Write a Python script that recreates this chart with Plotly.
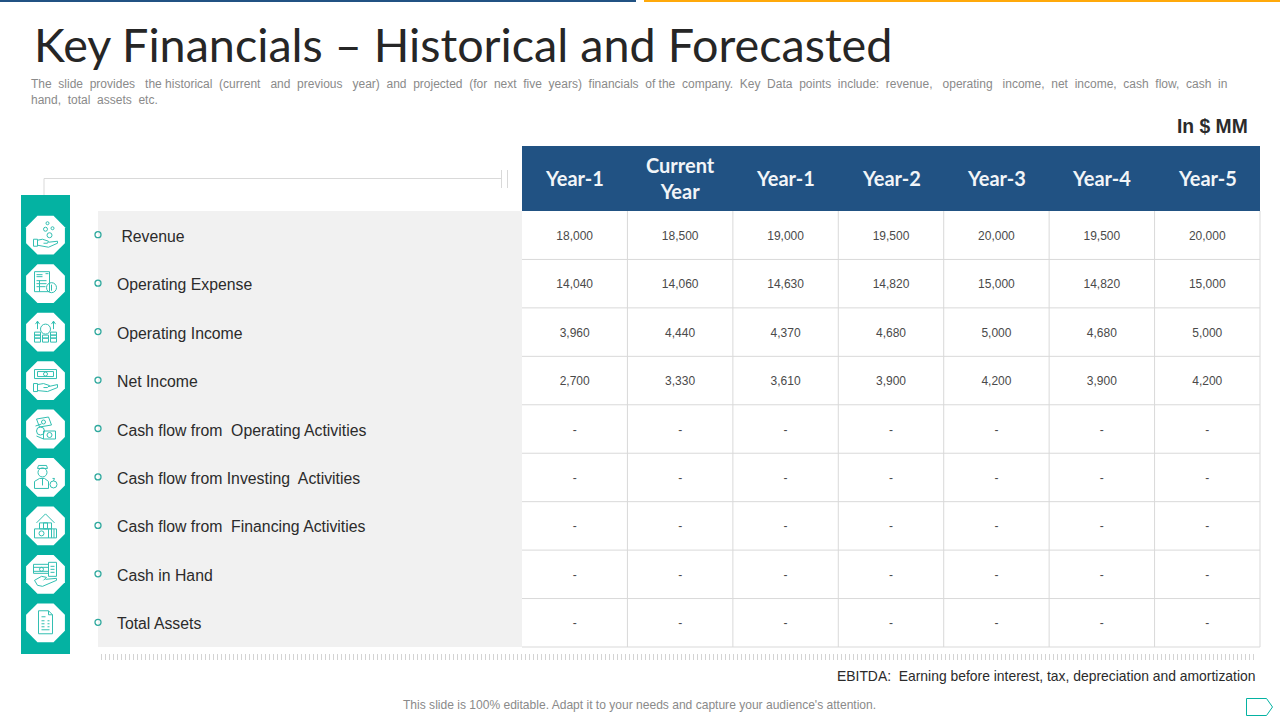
import plotly.graph_objects as go

# table content
title = 'Key Financials – Historical and Forecasted'
subtitle = ('The  slide  provides   the historical  (current   and  previous   year)  and  projected  (for  next  five  years)  financials  of the  company.  '
            'Key  Data  points  include:  revenue,   operating   income,  net  income,  cash  flow,  cash  in<br>hand,  total  assets  etc.')
unit = 'In $ MM'
note = 'EBITDA:  Earning before interest, tax, depreciation and amortization'
footer = "This slide is 100% editable. Adapt it to your needs and capture your audience's attention."

columns = ['Year-1', 'Current<br>Year', 'Year-1', 'Year-2', 'Year-3', 'Year-4', 'Year-5']
rowNames = ['\u00a0Revenue', 'Operating Expense', 'Operating Income', 'Net Income',
            'Cash flow from  Operating Activities', 'Cash flow from Investing  Activities',
            'Cash flow from  Financing Activities', 'Cash in Hand', 'Total Assets']

revenue = ['18,000', '18,500', '19,000', '19,500', '20,000', '19,500', '20,000']
opExpense = ['14,040', '14,060', '14,630', '14,820', '15,000', '14,820', '15,000']
opIncome = ['3,960', '4,440', '4,370', '4,680', '5,000', '4,680', '5,000']
netIncome = ['2,700', '3,330', '3,610', '3,900', '4,200', '3,900', '4,200']
blank = ['-'] * 7
cellRows = [revenue, opExpense, opIncome, netIncome, blank, blank, blank, blank, blank]

# layout of the slide, in pixels
W = 1280; H = 720
tabL = 522; tabR = 1260; headT = 146; headB = 211; tabB = 647
colW = (tabR - tabL) / len(columns); rowH = (tabB - headB) / len(rowNames)
panelL = 98; bandL = 21; bandR = 70; bandT = 195; bandB = 654
iconX = 45.5

TEAL = '#04b2a2'; ICON = '#33bfb2'; BLUE = '#215283'; GRID = '#d9d9d9'; TXT = '#2b2b2b'

fig = go.Figure()


def rect(x0, y0, x1, y1, fill, line=None):
    fig.add_shape(type='rect', x0=x0, y0=y0, x1=x1, y1=y1, fillcolor=fill, line=dict(width=0 if line is None else 1, color=line), layer='below')


def seg(x0, y0, x1, y1, color=GRID, w=1):
    fig.add_shape(type='line', x0=x0, y0=y0, x1=x1, y1=y1, line=dict(color=color, width=w), layer='below')


def label(x, y, text, size, color=TXT, anchor='left', font='Liberation Sans', **kw):
    fig.add_annotation(x=x, y=y, text=text, showarrow=False, xanchor=anchor, yanchor='middle', borderpad=0,
                       font=dict(family=font, size=size, color=color), **kw)


# little line icons, drawn around the octagon centre
def icon(cy, parts):
    for p in parts:
        kind = p[0]
        if kind == 'c':
            _, x, y, r = p
            fig.add_shape(type='circle', x0=iconX+x-r, x1=iconX+x+r, y0=cy+y-r, y1=cy+y+r, line=dict(color=ICON, width=1))
        elif kind == 'r':
            _, x0, y0, x1, y1 = p
            fig.add_shape(type='rect', x0=iconX+x0, x1=iconX+x1, y0=cy+y0, y1=cy+y1, line=dict(color=ICON, width=1))
        else:
            pts = p[1]
            path = 'M' + ' L'.join('{:g},{:g}'.format(iconX+x, cy+y) for x, y in pts)
            fig.add_shape(type='path', path=path, line=dict(color=ICON, width=1))


hand = [('r', -12, 4, -8, 11), ('l', [(-8, 5), (-3, 4), (3, 6), (2, 8), (-2, 8)]),
        ('l', [(3, 7), (12, 6), (12, 8), (3, 12), (-8, 10)])]
iconParts = [
    hand + [('c', 2, -12, 1.5), ('c', 0, -6, 2), ('c', 7, -7, 1.5), ('c', 4, 0, 2.5)],
    [('r', -11, -12, 4, 8), ('l', [(-9, -9), (-3, -9)]), ('l', [(-9, -7), (-3, -7)]), ('l', [(-9, -3), (1, -3)]),
     ('l', [(-9, 0), (1, 0)]), ('l', [(-9, 3), (0, 3)]), ('l', [(-6, -3), (-6, 8)]), ('c', 6, 4, 5), ('l', [(6, 1), (6, 7)]),
     ('l', [(0, -10), (3, -10)])],
    [('r', -11, 0, -5, 3), ('r', -11, 3, -5, 6), ('r', -11, 6, -5, 10), ('r', -3, 3, 3, 6), ('r', -3, 6, 3, 10),
     ('r', 5, 0, 11, 3), ('r', 5, 3, 11, 6), ('r', 5, 6, 11, 10), ('c', 0, -3, 5), ('l', [(-8, -3), (-8, -11)]),
     ('l', [(-10, -8), (-8, -11), (-6, -8)]), ('l', [(8, -3), (8, -11)]), ('l', [(6, -8), (8, -11), (10, -8)])],
    [('r', -11, -11, 11, -2), ('r', -8, -9, 8, -4), ('c', 0, -6.5, 2), ('r', -12, 3, -8, 11),
     ('l', [(-8, 4), (-2, 3), (4, 5), (2, 7), (-2, 7)]), ('l', [(3, 6), (12, 4), (12, 7), (2, 11), (-8, 10)])],
    [('l', [(-9, -10), (3, -12), (6, -4), (-6, -2), (-9, -10)]), ('l', [(-10, -3), (-4, -5)]), ('c', -2, -7, 2),
     ('r', -2, 2, 10, 10), ('c', 4, 6, 2.5), ('c', -5, 2, 4), ('l', [(-9, 7), (-2, 10)])],
    [('c', -3, -5, 4.5), ('l', [(-8, -9), (-7, -12), (1, -12), (2, -9), (-8, -9)]), ('l', [(-11, 11), (-11, 4), (-6, 1), (-1, 1), (3, 4), (3, 11), (-11, 11)]),
     ('l', [(-3, 1), (-3, 8)]), ('c', 8, 7, 3.5), ('l', [(7, 1), (9, 1), (8, 3.5)])],
    [('l', [(-9, -3), (0, -12), (9, -3)]), ('r', -6, -3, 6, 3), ('r', -2, -3, 2, 3), ('r', -11, 3, 3, 12), ('c', -4, 7.5, 2.5),
     ('r', 3, 3, 11, 12), ('l', [(6, 3), (6, 12)]), ('l', [(8.5, 3), (8.5, 12)])],
    [('r', -12, -10, 3, -1), ('r', -12, -7, 3, -3), ('c', -4, -5, 2), ('r', 3, -12, 11, 2), ('l', [(5, -8), (9, -8)]), ('l', [(5, -5), (9, -5)]),
     ('l', [(5, -2), (9, -2)]), ('l', [(-11, 6), (-4, 2), (1, 3), (-2, 6)]), ('l', [(0, 5), (11, 4), (11, 6), (-3, 12), (-8, 11), (-11, 6)])],
    [('l', [(-7, -12), (3, -12), (7, -8), (7, 11), (-7, 11), (-7, -12)]), ('l', [(3, -12), (3, -8), (7, -8)]),
     ('l', [(-4, -6), (0, -6)]), ('l', [(-4, -2), (-1, -2)]), ('l', [(2, -2), (4, -2)]), ('l', [(-4, 1), (-1, 1)]),
     ('l', [(2, 1), (4, 1)]), ('l', [(-4, 4), (-1, 4)]), ('l', [(2, 4), (4, 4)]), ('l', [(-4, 7), (4, 7)])],
]

# slide furniture
rect(0, 0, 636, 2, BLUE)
rect(644, 0, W, 2, '#ffa90a')
rect(bandL, bandT, bandR, bandB, TEAL)
rect(panelL, headB, tabL, tabB, '#f1f1f1')
rect(tabL, headT, tabR, headB, BLUE)

# bracket above the row labels
fig.add_shape(type='path', path='M44,195 L44,178.5 L501,178.5', line=dict(color=GRID, width=1), layer='below')
seg(501.5, 170, 501.5, 188)
seg(507.5, 170, 507.5, 188)

# table grid
for i in range(1, len(rowNames) + 1):
    seg(tabL, headB + i*rowH, tabR, headB + i*rowH)
for i in range(1, len(columns) + 1):
    seg(tabL + i*colW, headB, tabL + i*colW, tabB)

# ruler under the table
ruler = ' '.join('M{},654 L{},660'.format(x + .5, x + .5) for x in range(101, 1254, 4))
fig.add_shape(type='path', path=ruler, line=dict(color='#d4d4d4', width=1), layer='below')

# next-page arrow
fig.add_shape(type='path', path='M1246.5,698.5 L1266.5,698.5 L1272.5,707 L1266.5,715.5 L1246.5,715.5 Z',
              line=dict(color=TEAL, width=1))

# table values
cellX = []; cellY = []; cellT = []
for r, vals in enumerate(cellRows):
    for c, v in enumerate(vals):
        cellX.append(tabL + (c + .5)*colW); cellY.append(headB + (r + .5)*rowH + 1.5); cellT.append(v)
fig.add_trace(go.Scatter(x=cellX, y=cellY, text=cellT, mode='text', textposition='middle center',
                         textfont=dict(family='Liberation Sans', size=12, color='#4a4a4a'), hoverinfo='skip'))

# octagons and bullets on each row
midY = [headB + (r + .5)*rowH for r in range(len(rowNames))]
fig.add_trace(go.Scatter(x=[iconX]*len(midY), y=midY, mode='markers', hoverinfo='skip',
                         marker=dict(symbol='octagon', size=42, color='white', line=dict(width=0))))
fig.add_trace(go.Scatter(x=[panelL]*len(midY), y=[y - .5 for y in midY], mode='markers', hoverinfo='skip',
                         marker=dict(symbol='circle-open', size=6, color='#2fa99e', line=dict(width=1.3))))

for cy, parts in zip(midY, iconParts):
    icon(cy, parts)

for r, name in enumerate(rowNames):
    label(116, headB + (r + .5)*rowH + 1, name, 15.8)

for c, name in enumerate(columns):
    label(tabL + (c + .5)*colW, (headT + headB)/2 - 1, name, 20, color='#f2f5f8', anchor='center', font='Lato')
    fig.layout.annotations[-1].font.weight = 'bold'

# texts around the table
label(33, 44, title, 46.7, color='#262626', font='Lato')
label(30, 91.5, subtitle, 12, color='#8a8a8a', align='left')
label(1249, 126, '<b>' + unit + '</b>', 19.3, anchor='right')
label(1256, 676, note, 13.9, anchor='right')
label(402, 705, footer, 12.05, color='#8a8a8a')

fig.update_xaxes(range=[0, W], visible=False, fixedrange=True)
fig.update_yaxes(range=[H, 0], visible=False, fixedrange=True)
fig.update_layout(width=W, height=H, margin=dict(l=0, r=0, t=0, b=0), showlegend=False,
                  paper_bgcolor='white', plot_bgcolor='white')

fig.write_html('out.html', config=dict(displayModeBar=False),
               post_script="document.body.style.margin='0';document.body.style.overflow='hidden';")
